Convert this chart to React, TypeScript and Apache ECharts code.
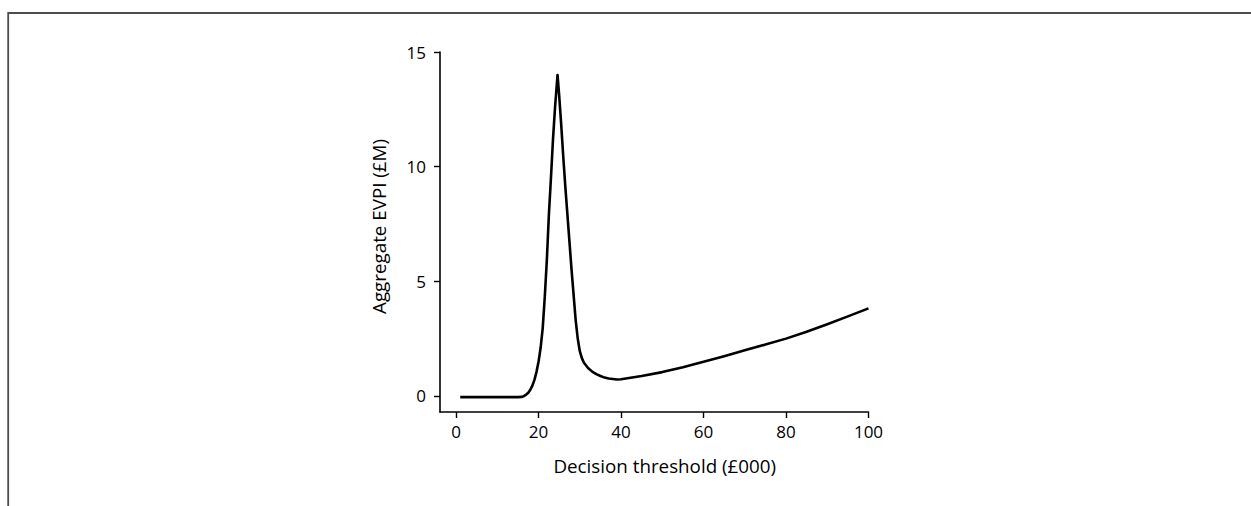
import React, { useEffect, useRef } from "react";
import * as echarts from "echarts";

const thresholds = [1, 5, 10, 15, 16, 16.5, 17, 17.5, 18, 18.5, 19, 19.5, 20, 20.5, 21, 21.5, 22, 22.5, 23, 23.5, 24, 24.6, 25, 25.5, 26, 26.5, 27, 27.5, 28, 28.5, 29, 29.5, 30, 30.5, 31, 32, 33, 34, 35, 36, 37, 38, 39, 40, 45, 50, 55, 60, 65, 70, 75, 80, 85, 90, 95, 100];
const evpi = [-0.05, -0.05, -0.05, -0.05, -0.04, 0.0, 0.06, 0.14, 0.27, 0.45, 0.7, 1.05, 1.5, 2.1, 2.95, 4.3, 5.9, 7.9, 9.5, 11.2, 12.6, 14.0, 13.1, 11.8, 10.4, 9.1, 7.9, 6.7, 5.5, 4.4, 3.3, 2.5, 1.95, 1.65, 1.45, 1.22, 1.06, 0.95, 0.87, 0.8, 0.76, 0.74, 0.72, 0.73, 0.87, 1.04, 1.25, 1.49, 1.73, 1.99, 2.24, 2.5, 2.8, 3.13, 3.47, 3.82];
const xTicks = [0, 20, 40, 60, 80, 100];
const yTicks = [0, 5, 10, 15];
const xTitle = "Decision threshold (£000)";
const yTitle = "Aggregate EVPI (£M)";

const FONT = "Open Sans";

export default function App() {
  const ref = useRef<HTMLDivElement>(null);
  useEffect(() => {
    document.body.style.margin = "0";
    if (!ref.current) return;
    const chart = echarts.init(ref.current, undefined, { renderer: "svg" });
    const data = thresholds.map((x, i) => [x, evpi[i]]);
    chart.setOption({
      animation: false,
      backgroundColor: "#ffffff",
      grid: { left: 440, right: 382.5, top: 52, bottom: 94 },
      xAxis: {
        type: "value",
        min: -3.9,
        max: 100,
        name: xTitle,
        nameLocation: "middle",
        nameGap: 44,
        nameTextStyle: { color: "#000", fontSize: 18.8, fontFamily: FONT, padding: [0, 0, 0, 21] },
        axisLine: { onZero: false, lineStyle: { color: "#000", width: 1.6 } },
        axisTick: { show: true, length: 6, customValues: xTicks, lineStyle: { color: "#000", width: 1.4 } },
        axisLabel: { customValues: xTicks, color: "#000", fontSize: 17, fontFamily: FONT, margin: 11 },
        splitLine: { show: false },
      },
      yAxis: {
        type: "value",
        min: -0.7,
        max: 15,
        name: yTitle,
        nameLocation: "middle",
        nameGap: 52,
        nameTextStyle: { color: "#000", fontSize: 18.8, fontFamily: FONT, padding: [0, 0, 0, 11] },
        axisLine: { show: true, onZero: false, lineStyle: { color: "#000", width: 1.6 } },
        axisTick: { show: true, length: 6, customValues: yTicks, lineStyle: { color: "#000", width: 1.4 } },
        axisLabel: { customValues: yTicks, color: "#000", fontSize: 17, fontFamily: FONT, margin: 14 },
        splitLine: { show: false },
      },
      series: [
        {
          type: "line",
          data,
          showSymbol: false,
          smooth: false,
          lineStyle: { color: "#000", width: 2.6, join: "round" },
        },
      ],
      graphic: [
        {
          type: "polyline",
          shape: { points: [[8.2, 506], [8.2, 13], [1251, 13]] },
          style: { stroke: "#4d4d4d", lineWidth: 1.8, fill: "none" },
        },
      ],
    });
    return () => chart.dispose();
  }, []);
  return <div ref={ref} style={{ width: 1251, height: 506 }} />;
}
